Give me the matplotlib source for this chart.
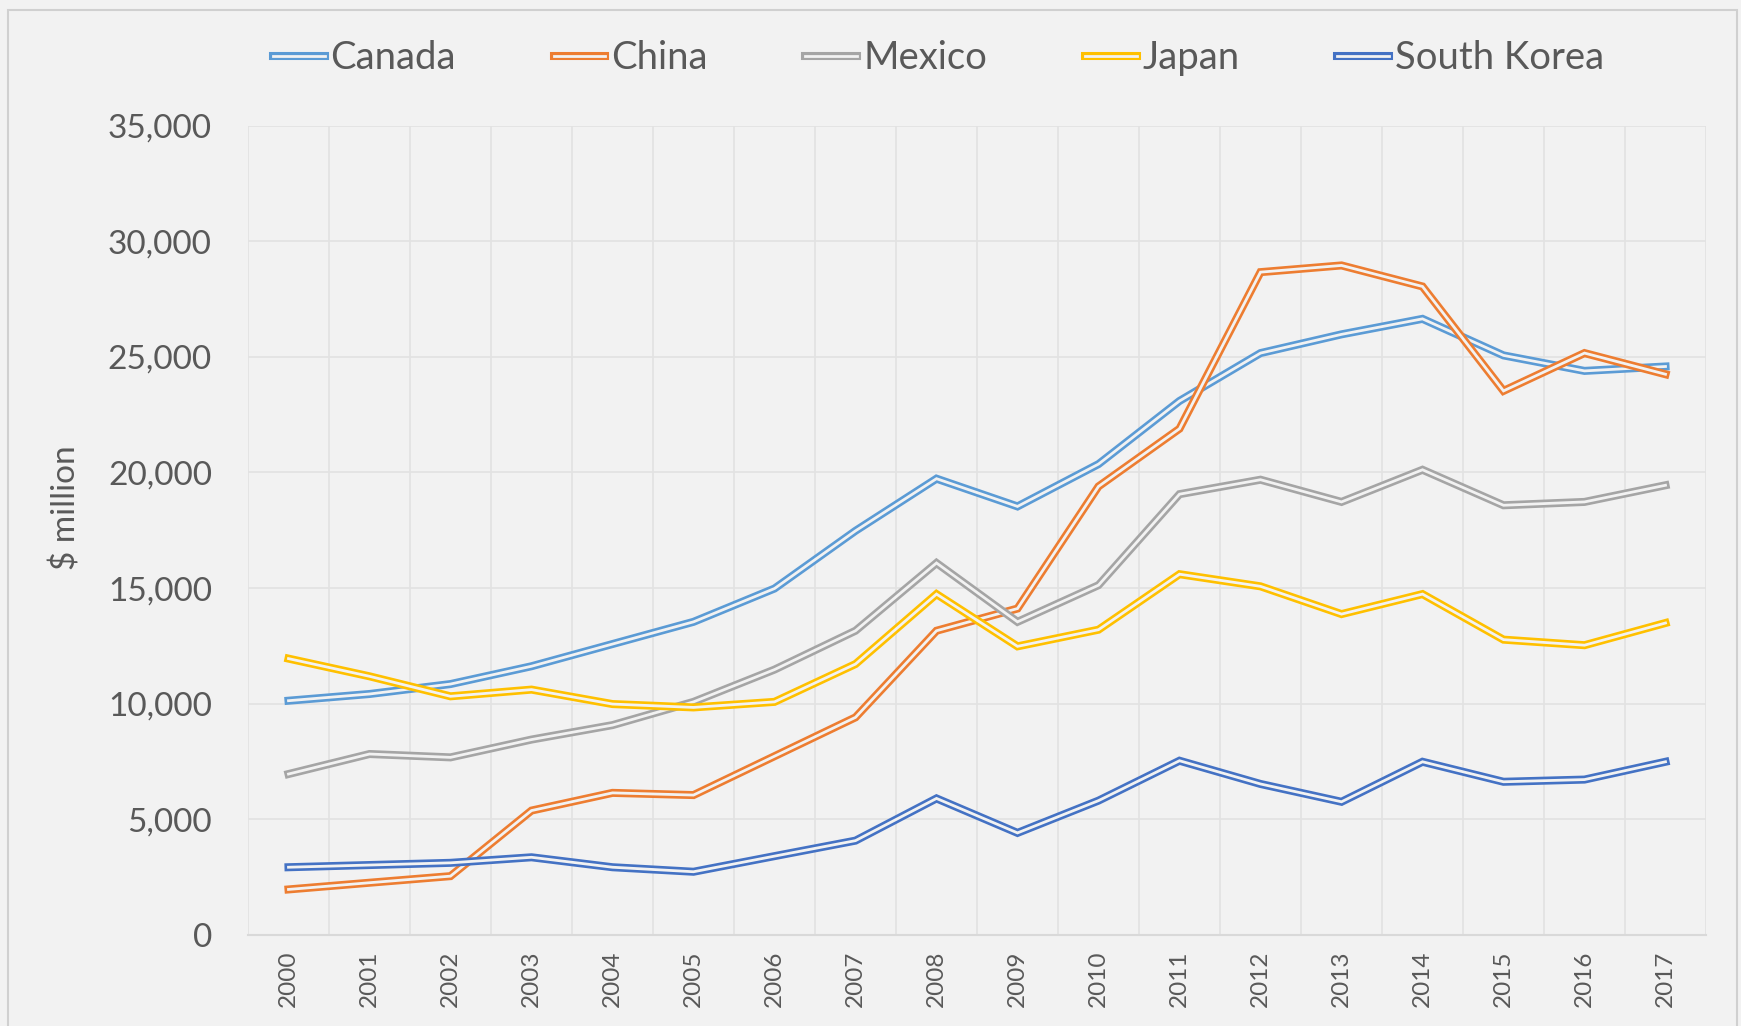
import matplotlib
matplotlib.use("Agg")
import matplotlib.pyplot as plt
import matplotlib.patheffects as pe
from matplotlib.patches import Rectangle
from matplotlib.ticker import FuncFormatter, MultipleLocator

years = [str(y) for y in range(2000, 2018)]
canada = [10130, 10420, 10850, 11620, 12580, 13540, 14980, 17475, 19730, 18530,
          20360, 23090, 25160, 25970, 26640, 25060, 24390, 24580]
china = [1970, 2260, 2545, 5380, 6145, 6050, 7730, 9410, 13155, 14115,
         19395, 21890, 28660, 28950, 28040, 23525, 25160, 24245]
mexico = [6960, 7825, 7680, 8450, 9075, 10080, 11475, 13155, 16085, 13540,
          15125, 19060, 19685, 18725, 20115, 18580, 18725, 19445]
japan = [11950, 11185, 10320, 10610, 9985, 9840, 10080, 11715, 14740, 12480,
         13200, 15600, 15075, 13875, 14740, 12770, 12530, 13490]
south_korea = [2930, 3025, 3120, 3360, 2930, 2735, 3410, 4080, 5905, 4415,
               5810, 7535, 6530, 5760, 7490, 6625, 6720, 7490]

series = [("Canada", canada, "#5B9BD5"), ("China", china, "#ED7D31"),
          ("Mexico", mexico, "#A5A5A5"), ("Japan", japan, "#FFC000"),
          ("South Korea", south_korea, "#4472C4")]

BG = "#F2F2F2"
TXT = "#595959"
FONT = ["Lato", "DejaVu Sans"]
plt.rcParams['font.family'] = FONT

fig = plt.figure(figsize=(17.41, 10.26), dpi=100, facecolor=BG)
fig.patches.append(Rectangle((8 / 1741, -0.01), (1737 - 8) / 1741, 1.0, transform=fig.transFigure,
                             facecolor="none", edgecolor="#D0D0D0", linewidth=1.5))
ax = fig.add_axes([248 / 1741, 1 - 935 / 1026, (1706 - 248) / 1741, (935 - 125.5) / 1026])
ax.set_facecolor(BG)

x = list(range(len(years)))
for name, vals, col in series:
    ax.plot(x, vals, color=BG, linewidth=2.0, label=name, solid_joinstyle="miter",
            path_effects=[pe.Stroke(linewidth=5.8, foreground=col), pe.Normal()])

ax.set_xlim(-0.5, len(years) - 0.5)
ax.set_ylim(0, 35000)
ax.yaxis.set_major_locator(MultipleLocator(5000))
ax.yaxis.set_major_formatter(FuncFormatter(lambda v, p: f"{int(v):,}"))
ax.set_xticks(x)
ax.set_xticklabels(years, rotation=90, fontsize=17.5, color=TXT)
ax.set_xticks([i - 0.5 for i in range(len(years) + 1)], minor=True)
ax.tick_params(axis="x", which="both", length=0, pad=11)
ax.tick_params(axis="y", length=0, pad=26, labelsize=24, labelcolor=TXT)
ax.grid(axis="y", which="major", color="#E2E2E2", linewidth=1.2)
ax.grid(axis="x", which="minor", color="#E2E2E2", linewidth=1.2)
ax.set_axisbelow(True)
for s in ["top", "right", "left"]:
    ax.spines[s].set_visible(False)
ax.spines["bottom"].set_color("#D9D9D9")
ax.spines["bottom"].set_linewidth(1.5)

fig.text(66 / 1741, 1 - 508 / 1026, "$ million", rotation=90, fontsize=24, color=TXT,
         ha="center", va="center")

leg = fig.legend(loc="center", bbox_to_anchor=(0.539, 1 - 58 / 1026), ncol=5, frameon=False,
                 fontsize=27.5, handlelength=1.36, handletextpad=0.15, columnspacing=2.56,
                 labelcolor=TXT, borderaxespad=0)

fig.savefig("out.png", dpi=100, facecolor=BG)
